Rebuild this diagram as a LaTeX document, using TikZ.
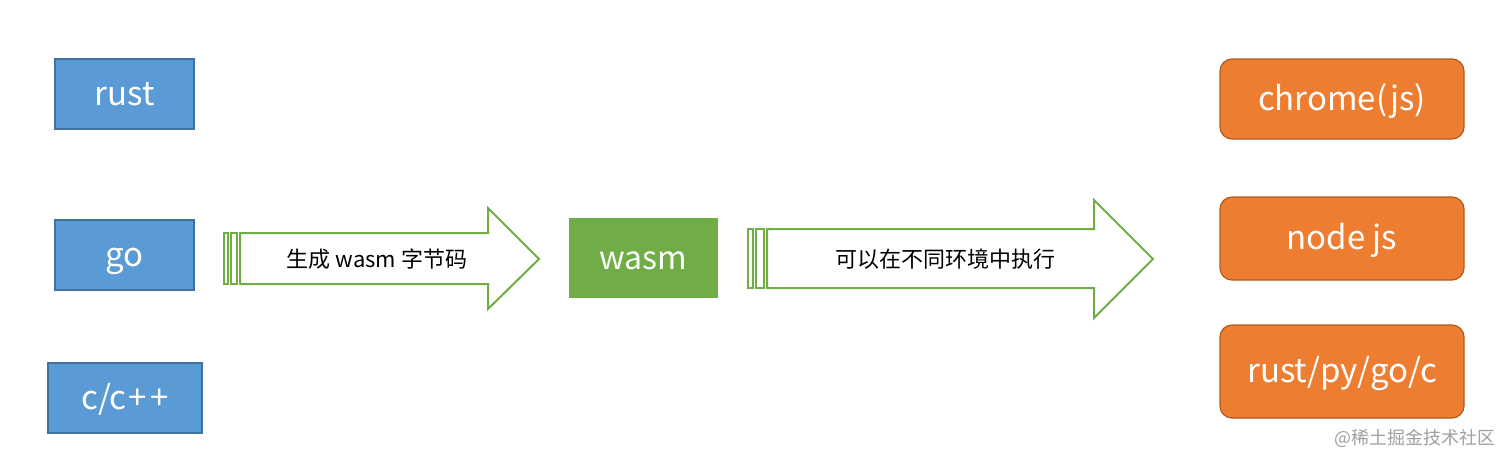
\documentclass[tikz,border=0pt]{standalone}
\usepackage{fontspec}
\setmainfont{Noto Sans CJK SC}
\definecolor{bluefill}{HTML}{5B9BD5}
\definecolor{blueline}{HTML}{41719C}
\definecolor{orangefill}{HTML}{ED7D31}
\definecolor{orangeline}{HTML}{AE5A21}
\definecolor{greenfill}{HTML}{70AD47}
\definecolor{wmgray}{HTML}{A0A0A0}
\tikzset{
  boxtext/.style={text height=29pt, text depth=7pt},
  srcbox/.style={draw=blueline, fill=bluefill, line width=1.5pt, text=white, font=\fontsize{33}{38}\selectfont, inner sep=0pt, boxtext},
  tgtbox/.style={draw=orangeline, fill=orangefill, line width=1.2pt, rounded corners=12pt, text=white, font=\fontsize{33}{38}\selectfont, inner sep=0pt, boxtext},
  midbox/.style={fill=greenfill, text=white, font=\fontsize{32}{38}\selectfont, inner sep=0pt, boxtext},
  bigarrow/.style={draw=greenfill, line width=2pt, fill=white, line join=miter},
  arrowtext/.style={font=\fontsize{22}{26}\selectfont, text=black, inner sep=0pt, text height=20pt, text depth=4pt},
}
\begin{document}
\begin{tikzpicture}[x=1pt,y=-1pt]
\useasboundingbox (0,0) rectangle (1512,464);
% source boxes
\node[srcbox, minimum width=139pt, minimum height=70pt] (rust) at (124.5,94) {rust};
\node[srcbox, minimum width=139pt, minimum height=70pt] (go) at (124.5,255) {go};
\node[srcbox, minimum width=154pt, minimum height=70pt] (cpp) at (125,398) {c/c\kern1.5pt{+}\kern4pt{+}};
% middle
\node[midbox, minimum width=149pt, minimum height=80pt] (wasm) at (643.5,258) {wasm};
% targets
\node[tgtbox, minimum width=244pt, minimum height=80pt] (chrome) at (1342,99) {chrome(js)};
\node[tgtbox, minimum width=244pt, minimum height=83pt] (node) at (1342,238.5) {node js};
\node[tgtbox, minimum width=244pt, minimum height=93pt] (other) at (1342,371.5) {rust/py/go/c};
% arrow 1
\draw[bigarrow] (224,233) rectangle (228,284);
\draw[bigarrow] (231,233) rectangle (237,284);
\draw[bigarrow] (240,233) -- (488,233) -- (488,208) -- (539,259) -- (488,309) -- (488,284) -- (240,284) -- cycle;
\node[arrowtext] (a1) at (377,259) {生成 wasm 字节码};
% arrow 2
\draw[bigarrow] (748,229) rectangle (753,288);
\draw[bigarrow] (756,229) rectangle (764,288);
\draw[bigarrow] (767,229) -- (1094,229) -- (1094,200) -- (1153,259) -- (1094,318) -- (1094,288) -- (767,288) -- cycle;
\node[arrowtext] (a2) at (945,259) {可以在不同环境中执行};
% watermark
\node[text=wmgray, font=\fontsize{18}{22}\selectfont, anchor=east, inner sep=0pt, text height=16pt, text depth=3pt] (wm) at (1496,438) {@稀土掘金技术社区};
\end{tikzpicture}
\end{document}
